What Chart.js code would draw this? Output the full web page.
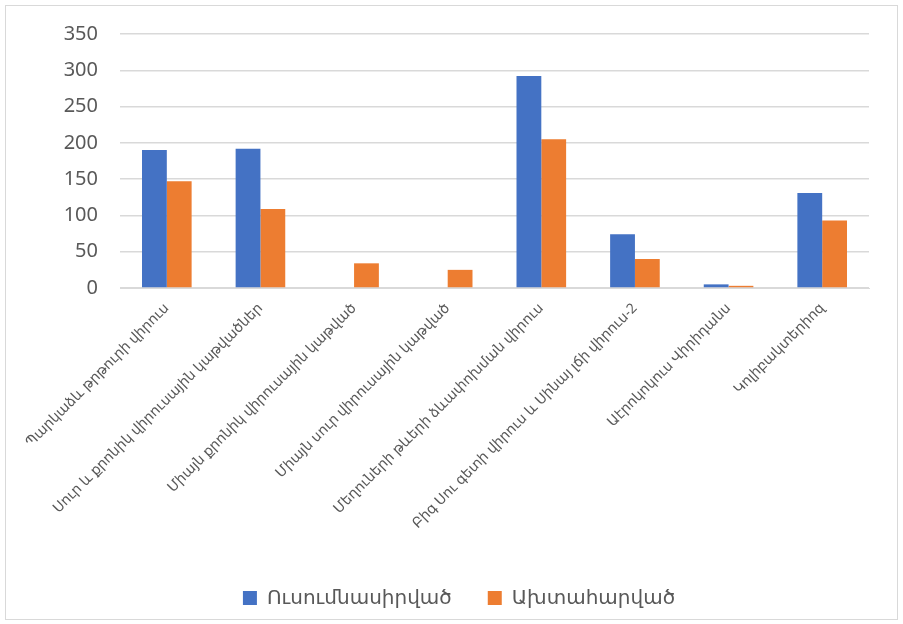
<!DOCTYPE html>
<html>
<head>
<meta charset="utf-8">
<script src="https://cdn.jsdelivr.net/npm/chart.js@4"></script>
<style>
  html, body { margin: 0; padding: 0; background: #fff; }
  #wrap { position: absolute; left: 0; top: 0; width: 903px; height: 624px; }
  #frame { position: absolute; left: 5px; top: 5px; width: 891px; height: 613px;
           border: 1px solid #d9d9d9; pointer-events: none; }
</style>
</head>
<body>
<div id="wrap"><canvas id="chart" width="903" height="624"></canvas></div>
<div id="frame"></div>
<script>
const categories = [
  'Պարկաձև թրթուրի վիրուս',
  'Սուր և քրոնիկ վիրուսային կաթվածներ',
  'Միայն քրոնիկ վիրուսային կաթված',
  'Միայն սուր վիրուսային կաթված',
  'Մեղուների թևերի ձևափոխման վիրուս',
  'Բիգ Սու գետի վիրուս և Սինայ լճի վիրուս-2',
  'Աէրոկոկուս Վիրիդանս',
  'Կոլիբակտերիոզ'
];
const studied = [190, 192, 0, 0, 292, 74, 5, 131];
const infected = [147, 109, 34, 25, 205, 40, 3, 93];
const seriesNames = ['Ուսումնասիրված', 'Ախտահարված'];

const FONT = '"Noto Sans", "DejaVu Sans", sans-serif';
const TEXT = '#595959';
const GRID = '#d9d9d9';

new Chart(document.getElementById('chart'), {
  type: 'bar',
  data: {
    labels: categories,
    datasets: [
      { label: seriesNames[0], data: studied, backgroundColor: '#4472C4' },
      { label: seriesNames[1], data: infected, backgroundColor: '#ED7D31' }
    ]
  },
  options: {
    responsive: false,
    animation: false,
    layout: { padding: { top: 23, right: 34, left: 49, bottom: 6 } },
    datasets: { bar: { categoryPercentage: 0.53, barPercentage: 1 } },
    plugins: {
      tooltip: { enabled: false },
      legend: {
        position: 'bottom',
        labels: {
          color: TEXT,
          font: { family: FONT, size: 20 },
          boxWidth: 14,
          boxHeight: 14,
          padding: 36
        }
      }
    },
    scales: {
      x: {
        grid: { display: false },
        border: { color: GRID },
        ticks: {
          color: TEXT,
          font: { family: FONT, size: 14 },
          minRotation: 45,
          maxRotation: 45,
          autoSkip: false,
          padding: 4
        },
        afterFit: s => { s.height = 264; }
      },
      y: {
        min: 0,
        max: 350,
        border: { display: false },
        grid: { color: GRID, lineWidth: 1.5, drawTicks: false },
        ticks: {
          stepSize: 50,
          color: TEXT,
          font: { family: FONT, size: 20 },
          padding: 22
        },
        afterFit: s => { s.width = 71; }
      }
    }
  }
});
</script>
</body>
</html>
